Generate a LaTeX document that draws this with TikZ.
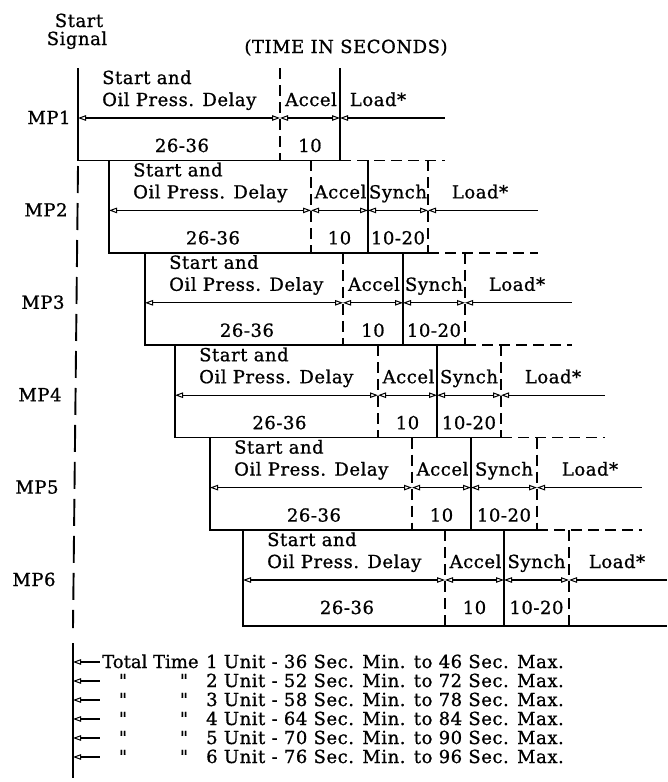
\documentclass[tikz,border=0pt]{standalone}
\usepackage{fontspec}
\setmainfont{DejaVu Serif}[FakeBold=0.9, LetterSpace=3]
\newfontfamily\rawserif{DejaVu Serif}[FakeBold=0.9]
\usetikzlibrary{arrows.meta}
\tikzset{
  box/.style={line width=1.7pt},
  dbox/.style={line width=1.7pt, dash pattern=on 11pt off 6pt},
  sigline/.style={line width=1.9pt, dash pattern=on 27pt off 10pt},
  tipa/.tip={Triangle[open,length=8pt,width=5.5pt,line width=1pt]},
  dim/.style={line width=1.1pt, tipa-tipa},
  ldim/.style={line width=1.1pt, tipa-},
  lbl/.style={inner sep=0pt, font=\fontsize{18}{20}\selectfont},
}
\begin{document}
\begin{tikzpicture}[x=1pt,y=-1pt]
\useasboundingbox (0,0) rectangle (667,782);
\fill[white] (0,0) rectangle (667,782);

\node[lbl,anchor=base] (st) at (79,27) {Start};
\node[lbl,anchor=base] (sg) at (77,45) {Signal};
\node[lbl,anchor=base] (tis) at (346,53) {(TIME IN SECONDS)};

\foreach \n/\Y/\L/\A/\S/\E/\R/\mx/\ld in {
  1/118/78/280/340/340/445/49/378,
  2/210.4/109/311/368/428/538/46/480,
  3/302.8/145/343/403/465/572/43/517,
  4/395.2/175/378/437/501/605/40/553,
  5/487.6/210/412/471/537/642/37/590,
  6/580/243/445/504/569/667/34/617}{
  \pgfmathsetmacro\T{\Y-50}
  \pgfmathsetmacro\B{\n==6 ? \Y+46 : \Y+42.4}
  \coordinate (TL\n) at (\L,\T); \coordinate (BL\n) at (\L,\B);
  \coordinate (TA\n) at (\A,\T); \coordinate (BA\n) at (\A,\B);
  \coordinate (TS\n) at (\S,\T); \coordinate (BS\n) at (\S,\B);
  \coordinate (TE\n) at (\E,\T); \coordinate (BE\n) at (\E,\B);
  \coordinate (BR\n) at (\R,\B);
  \coordinate (ML\n) at (\L,\Y); \coordinate (MA\n) at (\A,\Y);
  \coordinate (MS\n) at (\S,\Y); \coordinate (ME\n) at (\E,\Y);
  \coordinate (MR\n) at (\R,\Y);
  % frame
  \draw[box] (TL\n) -- (BL\n) -- (BE\n);
  \draw[dbox] (TA\n) -- (BA\n);
  \draw[box] (TS\n) -- (BS\n);
  \ifnum\n>1
    \draw[dbox] (TE\n) -- (BE\n);
  \fi
  \ifnum\n<6
    \draw[dbox] (BE\n) -- (BR\n);
  \else
    \draw[box] (BE\n) -- (BR\n);
  \fi
  % dimension arrows
  \draw[dim] (ML\n) -- (MA\n);
  \draw[dim] (MA\n) -- (MS\n);
  \ifnum\n>1
    \draw[dim] (MS\n) -- (ME\n);
  \fi
  \draw[ldim] (ME\n) -- (MR\n);
  % texts
  \node[lbl,anchor=base] (mp\n) at (\mx,{\Y+6}) {MP\n};
  \node[lbl,anchor=base west] (sa\n) at ({\L+24},{\Y-34}) {Start and};
  \node[lbl,anchor=base west] (op\n) at ({\L+24},{\Y-12}) {Oil Press. Delay};
  \node[lbl,anchor=base] (dl\n) at ({(\L+\A)/2+3},{\Y+34}) {26-36};
  \node[lbl,anchor=base] (ac\n) at ({(\A+\S)/2+1},{\Y-12}) {Accel};
  \node[lbl,anchor=base] (at\n) at ({(\A+\S)/2},{\Y+34}) {10};
  \ifnum\n>1
    \node[lbl,anchor=base] (sy\n) at ({(\S+\E)/2},{\Y-12}) {Synch};
    \node[lbl,anchor=base] (stt\n) at ({(\S+\E)/2},{\Y+34}) {10-20};
  \fi
  \node[lbl,anchor=base] (ld\n) at (\ld,{\Y-12}) {Load*};
}

% start signal line
\coordinate (sigtop) at (78,166);
\coordinate (sigbot) at (73,628);
\draw[sigline] (sigtop) -- (sigbot);

% legend
\coordinate (bartop) at (73,643);
\coordinate (barbot) at (73,778);
\draw[line width=2.2pt] (bartop) -- (barbot);
\foreach \k/\txt in {
  1/{1 Unit - 36 Sec. Min. to 46 Sec. Max.},
  2/{2 Unit - 52 Sec. Min. to 72 Sec. Max.},
  3/{3 Unit - 58 Sec. Min. to 78 Sec. Max.},
  4/{4 Unit - 64 Sec. Min. to 84 Sec. Max.},
  5/{5 Unit - 70 Sec. Min. to 90 Sec. Max.},
  6/{6 Unit - 76 Sec. Min. to 96 Sec. Max.}}{
  \pgfmathsetmacro\yy{662+19*(\k-1)}
  \coordinate (ba\k) at (73,\yy);
  \coordinate (bb\k) at (100,\yy);
  \draw[ldim] (ba\k) -- (bb\k);
  \node[lbl,anchor=base west] (lt\k) at (206,{\yy+6}) {\txt};
  \ifnum\k=1
    \node[lbl,anchor=base west] (tt) at (102,{\yy+6}) {\rawserif Total Time};
  \else
    \node[lbl,anchor=base] (d1\k) at (123,{\yy+6}) {\rawserif "};
    \node[lbl,anchor=base] (d2\k) at (184,{\yy+6}) {\rawserif "};
  \fi
}
\end{tikzpicture}
\end{document}
